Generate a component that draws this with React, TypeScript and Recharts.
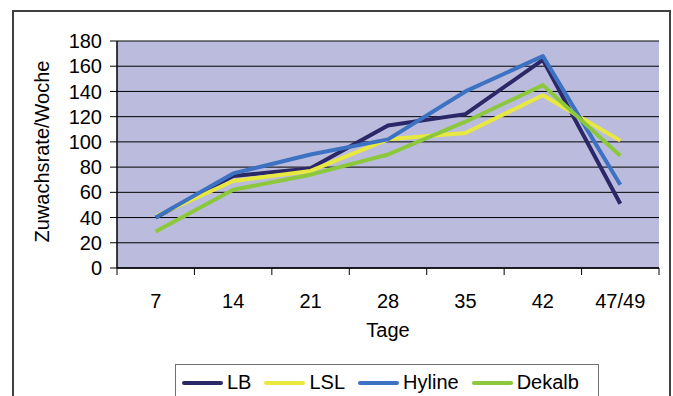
import { LineChart, Line, XAxis, YAxis, CartesianGrid } from 'recharts';

// Wachstum je Woche, vier Herkünfte
const TAGE = ['7', '14', '21', '28', '35', '42', '47/49'];
const LB = [40, 73, 79, 113, 122, 165, 51];
const LSL = [41, 69, 77, 102, 107, 137, 101];
const HYLINE = [40, 75, 90, 102, 140, 168, 66];
const DEKALB = [29, 62, 74, 90, 116, 145, 89];
const Y_TICKS = [0, 20, 40, 60, 80, 100, 120, 140, 160, 180];

const SERIES = [
  { key: 'LB', values: LB, color: '#2B2868' },
  { key: 'LSL', values: LSL, color: '#E8E840' },
  { key: 'Hyline', values: HYLINE, color: '#3D72C2' },
  { key: 'Dekalb', values: DEKALB, color: '#8CC83C' },
];

const FONT = '"Liberation Sans", Arial, sans-serif';
const W = 673;
const H = 396;
const MARGIN = { top: 41, right: 14, left: 50, bottom: 58 };
const Y_AXIS_W = 67;
const X_AXIS_H = 70;
const PLOT_LEFT = MARGIN.left + Y_AXIS_W;
const PLOT_RIGHT = W - MARGIN.right;
const PLOT_BOTTOM = H - MARGIN.bottom - X_AXIS_H;
const BAND = (PLOT_RIGHT - PLOT_LEFT) / TAGE.length;

const chartData = TAGE.map((tag, i) => {
  const row: Record<string, string | number> = { tag };
  SERIES.forEach((s) => {
    row[s.key] = s.values[i];
  });
  return row;
});

// Excel-Stil: Striche zwischen den Kategorien, Beschriftung in der Mitte
const CategoryTick = (props: any) => {
  const { x, payload, index } = props;
  const last = index === TAGE.length - 1;
  return (
    <g>
      <line x1={x - BAND / 2} x2={x - BAND / 2} y1={PLOT_BOTTOM} y2={PLOT_BOTTOM + 7} stroke="#000" />
      {last && (
        <line x1={x + BAND / 2} x2={x + BAND / 2} y1={PLOT_BOTTOM} y2={PLOT_BOTTOM + 7} stroke="#000" />
      )}
      <text
        x={x}
        y={PLOT_BOTTOM + 26}
        dy="0.71em"
        textAnchor="middle"
        fontSize={20}
        fontFamily={FONT}
        fill="#000"
      >
        {payload.value}
      </text>
    </g>
  );
};

const XLabel = (props: any) => {
  const vb = props.viewBox || {};
  return (
    <text
      x={vb.x + vb.width / 2}
      y={PLOT_BOTTOM + 69}
      textAnchor="middle"
      fontSize={20}
      fontFamily={FONT}
      fill="#000"
    >
      Tage
    </text>
  );
};

const YLabel = (props: any) => {
  const vb = props.viewBox || {};
  const cx = 42;
  const cy = vb.y + vb.height / 2 - 3;
  return (
    <text
      x={cx}
      y={cy}
      transform={`rotate(-90 ${cx} ${cy})`}
      textAnchor="middle"
      dominantBaseline="central"
      fontSize={20}
      fontFamily={FONT}
      fill="#000"
    >
      Zuwachsrate/Woche
    </text>
  );
};

export default function App() {
  return (
    <div style={{ position: 'absolute', left: 0, top: 0, width: W, height: H, overflow: 'hidden', background: '#fff' }}>
      <div
        style={{
          position: 'absolute',
          left: 12,
          top: 10,
          width: 659,
          height: 420,
          border: '2px solid #404040',
          boxSizing: 'border-box',
        }}
      />
      <div style={{ position: 'absolute', left: 0, top: 0 }}>
        <LineChart width={W} height={H} data={chartData} margin={MARGIN}>
          <CartesianGrid vertical={false} fill="#BBBCDD" stroke="#000" strokeWidth={1} />
          <XAxis
            dataKey="tag"
            scale="band"
            interval={0}
            height={X_AXIS_H}
            axisLine={{ stroke: '#000', strokeWidth: 1.5 }}
            tickLine={false}
            tick={<CategoryTick />}
            label={<XLabel />}
          />
          <YAxis
            domain={[0, 180]}
            ticks={Y_TICKS}
            interval={0}
            width={Y_AXIS_W}
            tickSize={7}
            tickMargin={8}
            axisLine={{ stroke: '#000', strokeWidth: 1.5 }}
            tickLine={{ stroke: '#000' }}
            tick={{ fontSize: 20, fill: '#000', fontFamily: FONT }}
            label={<YLabel />}
          />
          <YAxis
            yAxisId="r"
            orientation="right"
            domain={[0, 180]}
            width={0}
            tick={false}
            tickLine={false}
            axisLine={{ stroke: '#000', strokeWidth: 1.5 }}
          />
          {SERIES.map((s) => (
            <Line
              key={s.key}
              type="linear"
              dataKey={s.key}
              stroke={s.color}
              strokeWidth={4}
              dot={false}
              activeDot={false}
              strokeLinejoin="round"
              isAnimationActive={false}
            />
          ))}
        </LineChart>
      </div>
      <div
        style={{
          position: 'absolute',
          left: 175,
          top: 364,
          width: 424,
          height: 50,
          border: '1px solid #707070',
          boxSizing: 'border-box',
          background: '#fff',
        }}
      >
        <div
          style={{
            display: 'flex',
            alignItems: 'center',
            height: 35,
            paddingLeft: 6,
            gap: 13,
            fontFamily: FONT,
            fontSize: 20,
            color: '#000',
          }}
        >
          {SERIES.map((s) => (
            <div key={s.key} style={{ display: 'flex', alignItems: 'center', gap: 4 }}>
              <span style={{ display: 'inline-block', width: 41, height: 4, borderRadius: 2, background: s.color }} />
              <span>{s.key}</span>
            </div>
          ))}
        </div>
      </div>
    </div>
  );
}
